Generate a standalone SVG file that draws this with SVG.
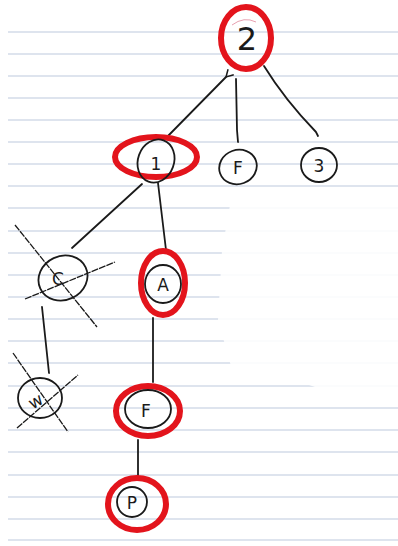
<svg xmlns="http://www.w3.org/2000/svg" width="398" height="546" viewBox="0 0 398 546">
<style>
.rule{stroke:#d3dbe8;stroke-width:1.6}
.red{fill:none;stroke:#e3141c;stroke-width:6}
.ink{fill:none;stroke:#1a1a1a;stroke-width:1.8;stroke-linecap:round}
.cross{fill:none;stroke:#1a1a1a;stroke-width:1.3;stroke-dasharray:7 1}
.lbl{font-family:"DejaVu Sans",sans-serif;font-size:17px;fill:#1a1a1a;text-anchor:middle}
</style>
<defs>
<marker id="tip" markerWidth="10" markerHeight="10" refX="1" refY="5" orient="auto" markerUnits="userSpaceOnUse">
<path d="M8,1 L1,5 L8,9" fill="none" stroke="#1a1a1a" stroke-width="1.5"/>
</marker>
</defs>
<rect width="398" height="546" fill="#ffffff"/>
<g id="paper">
<line class="rule" x1="8" y1="32" x2="398" y2="32"/>
<line class="rule" x1="8" y1="54" x2="398" y2="54"/>
<line class="rule" x1="8" y1="76" x2="398" y2="76"/>
<line class="rule" x1="8" y1="98" x2="398" y2="98"/>
<line class="rule" x1="8" y1="120" x2="398" y2="120"/>
<line class="rule" x1="8" y1="142" x2="398" y2="142"/>
<line class="rule" x1="8" y1="164" x2="398" y2="164"/>
<line class="rule" x1="8" y1="186" x2="398" y2="186"/>
<line class="rule" x1="8" y1="208" x2="398" y2="208"/>
<line class="rule" x1="8" y1="231" x2="398" y2="231"/>
<line class="rule" x1="8" y1="253" x2="398" y2="253"/>
<line class="rule" x1="8" y1="275" x2="398" y2="275"/>
<line class="rule" x1="8" y1="297" x2="398" y2="297"/>
<line class="rule" x1="8" y1="319" x2="398" y2="319"/>
<line class="rule" x1="8" y1="341" x2="398" y2="341"/>
<line class="rule" x1="8" y1="363" x2="398" y2="363"/>
<line class="rule" x1="8" y1="386" x2="398" y2="386"/>
<line class="rule" x1="8" y1="408" x2="398" y2="408"/>
<line class="rule" x1="8" y1="430" x2="398" y2="430"/>
<line class="rule" x1="8" y1="452" x2="398" y2="452"/>
<line class="rule" x1="8" y1="475" x2="398" y2="475"/>
<line class="rule" x1="8" y1="497" x2="398" y2="497"/>
<line class="rule" x1="8" y1="519" x2="398" y2="519"/>
<line class="rule" x1="8" y1="540" x2="398" y2="540"/>
<path d="M232,194 L398,190 L398,392 L330,392 L300,382 L236,384 L218,320 L222,250 Z" fill="#ffffff" opacity="0.88"/>
</g>
<g id="connectors">
<path class="ink" d="M166,138 L226,77" marker-end="url(#tip)"/>
<path class="ink" d="M236,79 L237,130 L238,142"/>
<path class="ink" d="M264,66 Q285,100 316,132 L318,136"/>
<path class="ink" d="M142,184 L72,248"/>
<path class="ink" d="M158,183 L166,250"/>
<path class="ink" d="M42,307 L49,373"/>
<path class="ink" d="M153,318 L153,382"/>
<path class="ink" d="M138,440 L138,477"/>
</g>
<g id="node-2">
<ellipse class="red" cx="246" cy="38" rx="25" ry="31"/>
<path d="M232,25 Q244,16 256,22" fill="none" stroke="#e8a0b0" stroke-width="1"/>
<text class="lbl" x="247" y="50" style="font-size:32px">2</text>
</g>
<g id="node-1">
<ellipse class="red" cx="156" cy="157" rx="41" ry="20"/>
<ellipse class="ink" cx="156" cy="161" rx="18" ry="22" transform="rotate(20 156 161)"/>
<text class="lbl" x="156" y="170">1</text>
</g>
<g id="node-F1">
<ellipse class="ink" cx="238" cy="167" rx="19" ry="17" transform="rotate(-20 238 167)"/>
<text class="lbl" x="238" y="174">F</text>
</g>
<g id="node-3">
<ellipse class="ink" cx="319" cy="165" rx="18" ry="17"/>
<text class="lbl" x="319" y="172">3</text>
</g>
<g id="node-C">
<ellipse class="ink" cx="63" cy="278" rx="25" ry="22" transform="rotate(-25 63 278)"/>
<text class="lbl" x="58" y="285">C</text>
<path class="cross" d="M15,225 L97,327"/>
<path class="cross" d="M25,299 L115,262"/>
</g>
<g id="node-A">
<ellipse class="red" cx="163" cy="283" rx="22" ry="32"/>
<ellipse class="ink" cx="163" cy="284" rx="18" ry="19"/>
<text class="lbl" x="163" y="291">A</text>
</g>
<g id="node-w">
<ellipse class="ink" cx="40" cy="398" rx="22" ry="20"/>
<text class="lbl" x="36" y="407" transform="rotate(-30 36 402)">w</text>
<path class="cross" d="M13,353 L68,432"/>
<path class="cross" d="M17,428 L78,375"/>
</g>
<g id="node-F2">
<ellipse class="red" cx="148" cy="411" rx="32" ry="25"/>
<ellipse class="ink" cx="148" cy="409" rx="23" ry="19"/>
<text class="lbl" x="146" y="417">F</text>
</g>
<g id="node-P">
<ellipse class="red" cx="137" cy="504" rx="29" ry="26"/>
<ellipse class="ink" cx="132" cy="502" rx="15" ry="15"/>
<text class="lbl" x="132" y="509">P</text>
</g>
</svg>
